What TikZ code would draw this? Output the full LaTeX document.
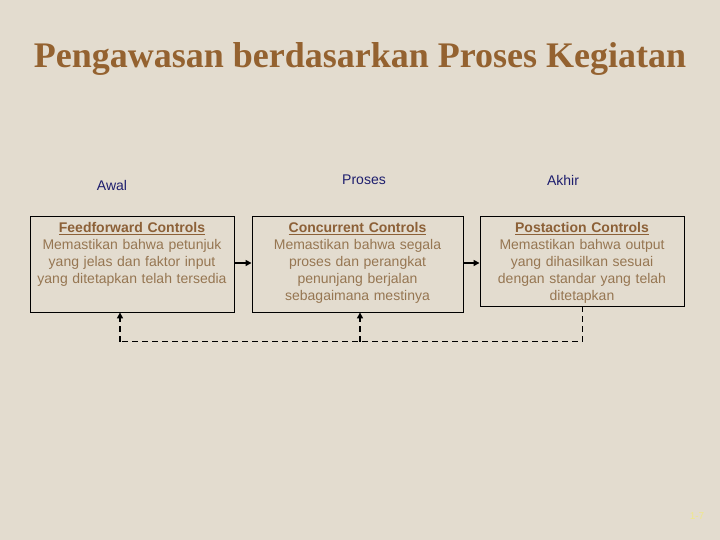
\documentclass[tikz,border=0pt]{standalone}
\usepackage{fontspec}
\setmainfont{Liberation Serif}
\setsansfont{Liberation Sans}
\usetikzlibrary{arrows.meta}
\definecolor{bg}{RGB}{227,220,207}
\definecolor{titlec}{RGB}{148,98,48}
\definecolor{headc}{RGB}{140,96,55}
\definecolor{bodyc}{RGB}{150,118,82}
\definecolor{labc}{RGB}{30,30,110}
\definecolor{pagec}{RGB}{240,232,140}
\begin{document}
\begin{tikzpicture}[x=1pt,y=1pt,
  boxst/.style={draw=black,line width=0.9pt,rectangle,inner sep=0pt},
  txtst/.style={anchor=north,align=center,inner sep=0pt,text width=210pt,
    font=\sffamily\fontsize{14}{17}\selectfont,text=bodyc},
  labst/.style={font=\sffamily\fontsize{14}{16}\selectfont,text=labc},
  arr/.style={line width=1.8pt,-{Triangle[length=6pt,width=6pt]}},
  fbline/.style={line width=1pt,dash pattern=on 6pt off 4pt},
  fbarr/.style={line width=2.2pt,dash pattern=on 6pt off 4pt,-{Triangle[length=6pt,width=6pt]}}]
\fill[bg] (0,0) rectangle (720,540);
\useasboundingbox (0,0) rectangle (720,540);
\node[font=\bfseries\fontsize{36}{42}\selectfont,text=titlec] (title) at (360,481) {Pengawasan berdasarkan Proses Kegiatan};
\node[labst] (lawal) at (112,354) {Awal};
\node[labst] (lproses) at (364,360) {Proses};
\node[labst] (lakhir) at (563,360) {Akhir};
\node[boxst,minimum width=204pt,minimum height=96pt] (b1) at (132,276) {};
\node[boxst,minimum width=211pt,minimum height=96pt] (b2) at (357.5,276) {};
\node[boxst,minimum width=204pt,minimum height=90pt] (b3) at (582,279) {};
\node[txtst] (t1) at ([yshift=-7pt]b1.north) {{\color{headc}\bfseries\underline{Feedforward Controls}}\\Memastikan bahwa petunjuk\\yang jelas dan faktor input\\yang ditetapkan telah tersedia};
\node[txtst] (t2) at ([yshift=-7pt]b2.north) {{\color{headc}\bfseries\underline{Concurrent Controls}}\\Memastikan bahwa segala\\proses dan perangkat\\penunjang berjalan\\sebagaimana mestinya};
\node[txtst] (t3) at ([yshift=-7pt]b3.north) {{\color{headc}\bfseries\underline{Postaction Controls}}\\Memastikan bahwa output\\yang dihasilkan sesuai\\dengan standar yang telah\\ditetapkan};
\draw[arr] (b1.east |- 0,277) -- (b2.west |- 0,277);
\draw[arr] (b2.east |- 0,277) -- (b3.west |- 0,277);
\coordinate (f3) at (582,198);
\coordinate (f1) at (120,198);
\coordinate (f2) at (360,198);
\draw[fbline] (b3.south) -- (f3) -- (f1);
\draw[fbarr] (f1) -- (f1 |- b1.south);
\draw[fbarr] (f2) -- (f2 |- b2.south);
\node[font=\sffamily\fontsize{10}{12}\selectfont,text=pagec] (pg) at (697,24) {1-7};
\end{tikzpicture}
\end{document}
